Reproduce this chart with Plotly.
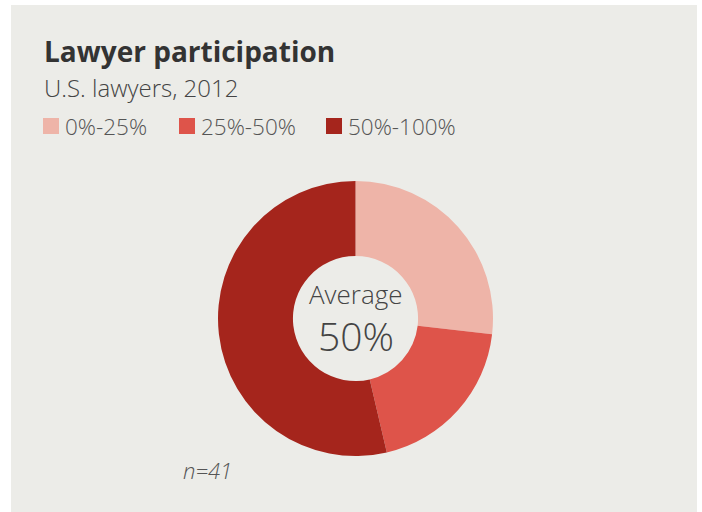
import plotly.graph_objects as go

# Data
categories = ["0%-25%", "25%-50%", "50%-100%"]
counts = [11, 8, 22]
colors = ["#EEB4A8", "#DE544A", "#A5251C"]
title_text = "Lawyer participation"
subtitle_text = "U.S. lawyers, 2012"
center_label = "Average"
center_value = "50%"
n_label = "n=41"

W, H = 702, 512
BG = "#ECECE8"

def px(x):
    return x / W

def py(y):
    return 1 - y / H

fig = go.Figure()
fig.add_trace(go.Pie(
    labels=categories,
    values=counts,
    marker=dict(colors=colors, line=dict(width=0)),
    hole=0.455,
    sort=False,
    direction="clockwise",
    rotation=0,
    textinfo="none",
    hoverinfo="label+value",
    showlegend=False,
    domain=dict(x=[px(218), px(493)], y=[py(456), py(181)]),
))

shapes = [dict(type="rect", xref="paper", yref="paper",
               x0=px(11), x1=px(697), y0=0, y1=py(5),
               fillcolor=BG, line=dict(width=0), layer="below")]
annotations = []

font_family = "Open Sans, Noto Sans, sans-serif"

annotations.append(dict(x=px(42), y=py(51), xref="paper", yref="paper",
                        text="<b>" + title_text + "</b>", showarrow=False,
                        xanchor="left", yanchor="middle",
                        font=dict(family=font_family, size=28, color="#333333")))
annotations.append(dict(x=px(42), y=py(87), xref="paper", yref="paper",
                        text=subtitle_text, showarrow=False,
                        xanchor="left", yanchor="middle",
                        font=dict(family=font_family, size=24, color="#444444", weight=300)))

# Manual legend
sw_x = [43, 179, 326]
for i, (cat, col) in enumerate(zip(categories, colors)):
    x0 = sw_x[i]
    shapes.append(dict(type="rect", xref="paper", yref="paper",
                       x0=px(x0), x1=px(x0 + 16), y0=py(134), y1=py(118),
                       fillcolor=col, line=dict(width=0)))
    annotations.append(dict(x=px(x0 + 20), y=py(126), xref="paper", yref="paper",
                            text=cat, showarrow=False, xanchor="left", yanchor="middle",
                            font=dict(family=font_family, size=22.5, color="#555555", weight=300)))

annotations.append(dict(x=px(356), y=py(294), xref="paper", yref="paper",
                        text=center_label, showarrow=False, xanchor="center", yanchor="middle",
                        font=dict(family=font_family, size=26, color="#444444", weight=300)))
annotations.append(dict(x=px(356), y=py(335), xref="paper", yref="paper",
                        text=center_value, showarrow=False, xanchor="center", yanchor="middle",
                        font=dict(family=font_family, size=39, color="#444444", weight=300)))
annotations.append(dict(x=px(181), y=py(470), xref="paper", yref="paper",
                        text="<i>" + n_label + "</i>", showarrow=False, xanchor="left", yanchor="middle",
                        font=dict(family=font_family, size=22, color="#555555", weight=300)))

fig.update_layout(
    width=W, height=H,
    margin=dict(l=0, r=0, t=0, b=0),
    paper_bgcolor="white",
    plot_bgcolor="white",
    shapes=shapes,
    annotations=annotations,
)

fig.write_html("out.html",
               config={"displayModeBar": False},
               post_script="document.body.style.margin='0';document.body.style.overflow='hidden';")
